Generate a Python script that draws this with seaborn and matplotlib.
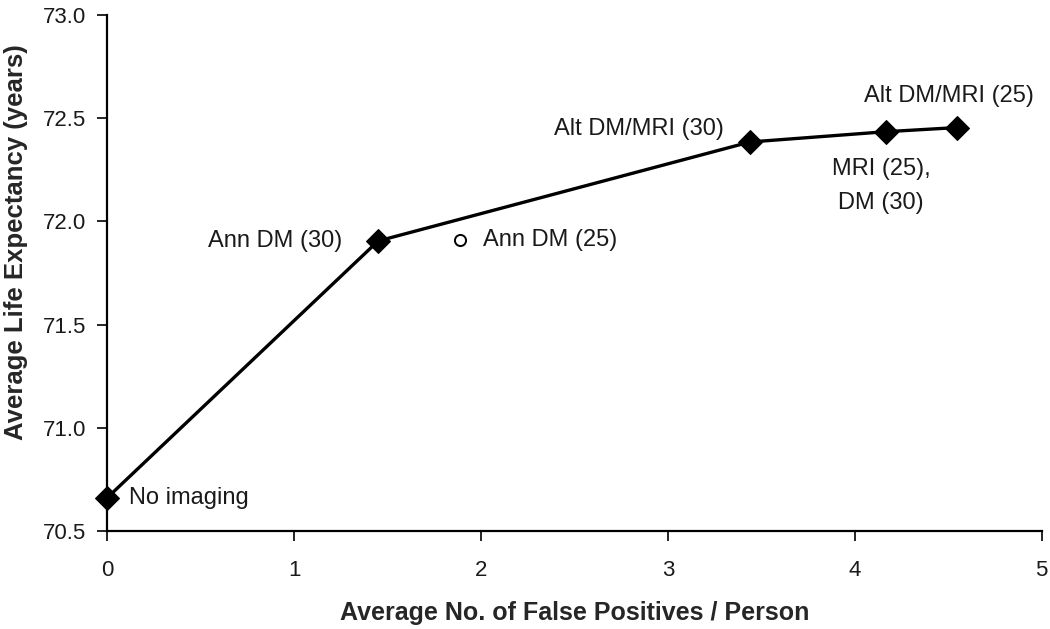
import matplotlib
matplotlib.use('Agg')
import matplotlib.pyplot as plt
import seaborn as sns
import pandas as pd

# strategies on the efficient frontier
strategies = ['No imaging', 'Ann DM (30)', 'Alt DM/MRI (30)', 'MRI (25),\nDM (30)', 'Alt DM/MRI (25)']
false_pos = [0.0, 1.45, 3.44, 4.17, 4.55]
life_exp = [70.66, 71.905, 72.385, 72.435, 72.455]

# dominated strategy
dom_name = 'Ann DM (25)'
dom_fp = 1.89
dom_le = 71.91

x_ticks = [0, 1, 2, 3, 4, 5]
y_ticks = [70.5, 71.0, 71.5, 72.0, 72.5, 73.0]

sns.set_style('ticks')
plt.rcParams['font.family'] = ['Liberation Sans', 'DejaVu Sans']

df = pd.DataFrame({'fp': false_pos, 'le': life_exp, 'name': strategies})

fig = plt.figure(figsize=(10.5, 6.29), dpi=100)
ax = fig.add_axes([0.102, 0.156, 0.890, 0.820])

sns.lineplot(data=df, x='fp', y='le', ax=ax, color='black', linewidth=2.4,
             marker='D', markersize=12, markerfacecolor='black',
             markeredgecolor='black', sort=False)
ax.plot([dom_fp], [dom_le], marker='o', markersize=8, markerfacecolor='white',
        markeredgecolor='black', markeredgewidth=1.4, linestyle='none')

# label offsets in points (text placement only)
offsets = {
    'No imaging': ((16, 0), 'left', 'center'),
    'Ann DM (30)': ((-26, 0), 'right', 'center'),
    'Alt DM/MRI (30)': ((-19, 9), 'right', 'center'),
    'MRI (25),\nDM (30)': ((-4, -39), 'center', 'center'),
    'Alt DM/MRI (25)': ((-6, 23), 'center', 'center'),
}
for name, xv, yv in zip(strategies, false_pos, life_exp):
    off, ha, va = offsets[name]
    ax.annotate(name, (xv, yv), xytext=off, textcoords='offset points',
                ha=ha, va=va, fontsize=17, color='#1a1a1a', linespacing=1.68)
ax.annotate(dom_name, (dom_fp, dom_le), xytext=(16, 0), textcoords='offset points',
            ha='left', va='center', fontsize=17, color='#1a1a1a')

ax.set_xlim(0, 5)
ax.set_ylim(70.5, 73.0)
ax.set_xticks(x_ticks)
ax.set_yticks(y_ticks)
ax.set_yticklabels([f'{v:.1f}' for v in y_ticks])
ax.tick_params(axis='both', labelsize=16, length=7, width=1.2, colors='black',
               labelcolor='#1a1a1a', pad=8)
ax.tick_params(axis='x', pad=14)
for s in ['left', 'bottom']:
    ax.spines[s].set_linewidth(1.6)
    ax.spines[s].set_color('black')
sns.despine(ax=ax)

ax.set_xlabel('Average No. of False Positives / Person', fontsize=18,
              fontweight='bold')
ax.set_ylabel('Average Life Expectancy (years)', fontsize=18.5, fontweight='bold')
ax.xaxis.set_label_coords(0.5, -0.135)
ax.yaxis.set_label_coords(-0.085, 0.56)
for line in ax.lines:
    line.set_clip_on(False)

fig.savefig('out.png', dpi=100)
